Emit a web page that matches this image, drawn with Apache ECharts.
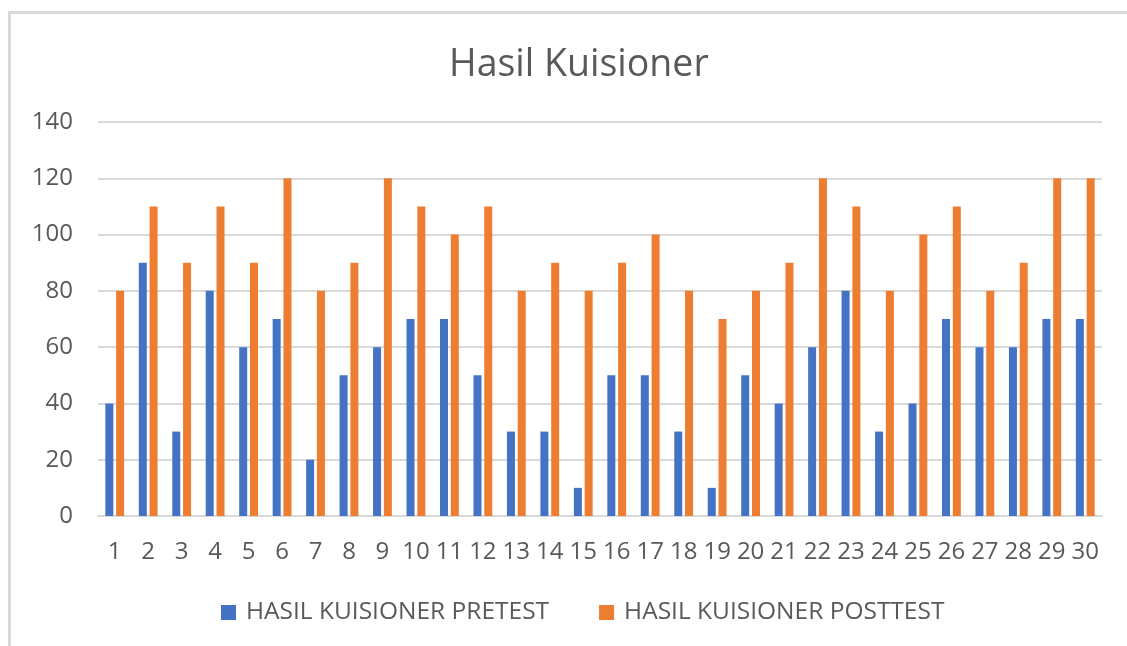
<!DOCTYPE html>
<html>
<head>
<meta charset="utf-8">
<script src="https://cdn.jsdelivr.net/npm/echarts@6/dist/echarts.min.js"></script>
<style>html,body{margin:0;padding:0;background:#fff;}#c{width:1127px;height:646px;}</style>
</head>
<body>
<div id="c"></div>
<script>
const categories = ['1','2','3','4','5','6','7','8','9','10','11','12','13','14','15','16','17','18','19','20','21','22','23','24','25','26','27','28','29','30'];
const pretest = [40,90,30,80,60,70,20,50,60,70,70,50,30,30,10,50,50,30,10,50,40,60,80,30,40,70,60,60,70,70];
const posttest = [80,110,90,110,90,120,80,90,120,110,100,110,80,90,80,90,100,80,70,80,90,120,110,80,100,110,80,90,120,120];
const seriesNames = ['HASIL KUISIONER PRETEST','HASIL KUISIONER POSTTEST'];
const yTicks = {min:0, max:140, interval:20};

const FONT = '"Open Sans", "Noto Sans", sans-serif';
const chart = echarts.init(document.getElementById('c'));
chart.setOption({
  animation: false,
  backgroundColor: '#fff',
  graphic: [{
    type: 'rect',
    shape: {x: 9.5, y: 12.5, width: 1300, height: 800},
    style: {fill: 'none', stroke: '#d9d9d9', lineWidth: 3},
    silent: true
  }],
  title: {
    text: 'Hasil Kuisioner',
    left: 444,
    top: 41,
    textStyle: {fontFamily: FONT, fontSize: 37.5, fontWeight: 'normal', color: '#595959'}
  },
  legend: {
    data: seriesNames,
    left: 216,
    top: 595,
    itemWidth: 15,
    itemHeight: 15,
    itemGap: 50,
    icon: 'rect',
    textStyle: {fontFamily: FONT, fontSize: 24.5, color: '#595959', padding: [0,0,0,5]}
  },
  grid: {left: 98, right: 25, top: 122, bottom: 130, containLabel: false},
  xAxis: {
    type: 'category',
    data: categories,
    axisLine: {lineStyle: {color: '#d9d9d9', width: 2}},
    axisTick: {show: false},
    axisLabel: {fontFamily: FONT, fontSize: 24, color: '#595959', margin: 24, interval: 0}
  },
  yAxis: {
    type: 'value',
    min: yTicks.min, max: yTicks.max, interval: yTicks.interval,
    axisLine: {show: false},
    axisTick: {show: false},
    axisLabel: {fontFamily: FONT, fontSize: 24, color: '#595959', margin: 25},
    splitLine: {lineStyle: {color: '#d9d9d9', width: 2}}
  },
  series: [
    {name: seriesNames[0], type: 'bar', data: pretest, barWidth: 8, barGap: '35%', itemStyle: {color: '#4472C4'}},
    {name: seriesNames[1], type: 'bar', data: posttest, barWidth: 8, barGap: '35%', itemStyle: {color: '#ED7D31'}}
  ]
});
</script>
</body>
</html>
